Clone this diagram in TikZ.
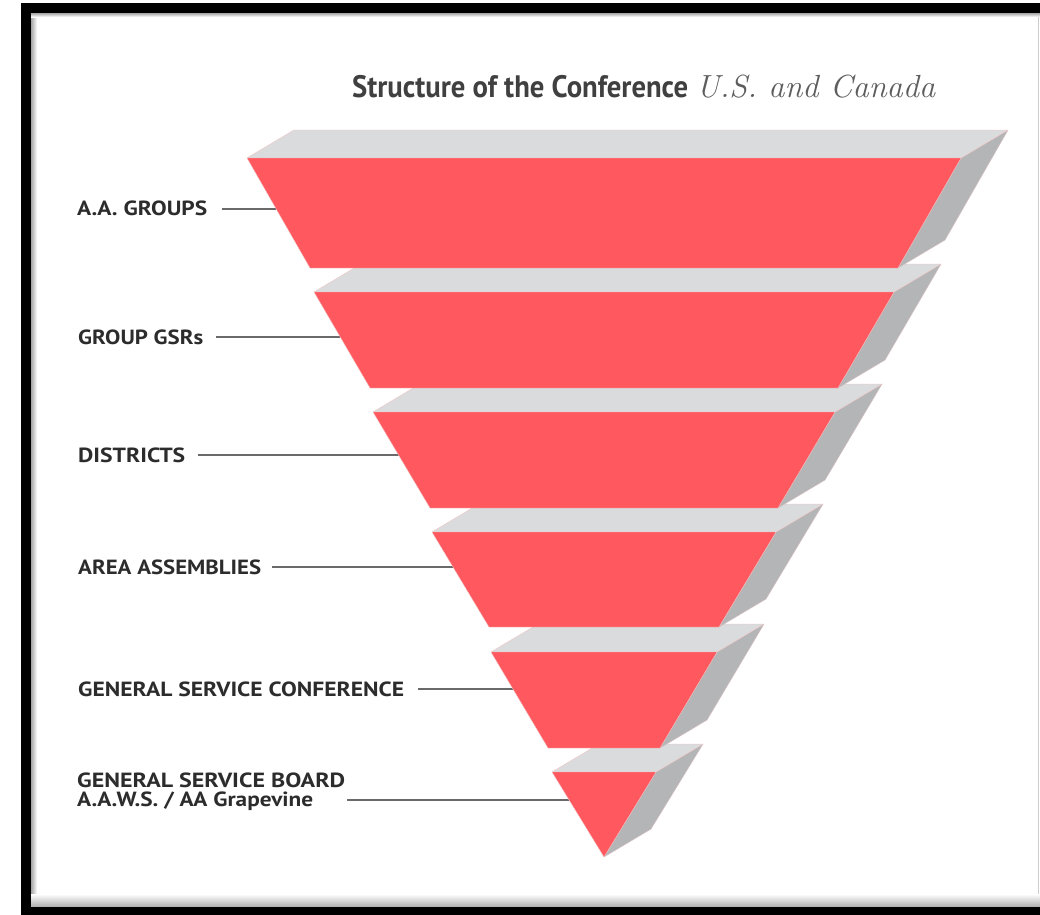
\documentclass[tikz,border=0pt]{standalone}
\usepackage{fontspec}
\usepackage{graphicx}
\newfontfamily\labfont{PT Sans}
\definecolor{slabred}{HTML}{FF585E}
\definecolor{topgrey}{HTML}{DADBDD}
\definecolor{sidegrey}{HTML}{B4B5B7}
\definecolor{slabedge}{HTML}{F0C4C4}
\definecolor{labcol}{HTML}{2C2C2C}
\definecolor{conncol}{HTML}{6A6A6A}
\definecolor{titcol}{HTML}{404040}
\newcommand\fitw[2]{\resizebox{#1pt}{\height}{#2}}
\newcommand\drawslab[4]{% #1 top y, #2 bottom y, #3 top half width, #4 bottom half width
  \path[sideface] ({604+#3},#1) -- ({651+#3},{#1-28}) -- ({651+#4},{#2-28}) -- ({604+#4},#2) -- cycle;
  \path[topface] ({604-#3},#1) -- ({651-#3},{#1-28}) -- ({651+#3},{#1-28}) -- ({604+#3},#1) -- cycle;
  \path[front] ({604-#3},#1) -- ({604+#3},#1) -- ({604+#4},#2) -- ({604-#4},#2) -- cycle;
}
\begin{document}
\begin{tikzpicture}[x=1pt,y=-1pt,
  front/.style={fill=slabred, draw=slabedge, line width=0.4pt, line join=round},
  topface/.style={fill=topgrey, draw=slabedge, line width=0.4pt, line join=round},
  sideface/.style={fill=sidegrey, draw=slabedge!60!sidegrey, line width=0.4pt, line join=round},
  lab/.style={anchor=base west, inner sep=0pt, text=labcol,
    font=\labfont\bfseries\fontsize{20.5}{18}\selectfont},
  conn/.style={draw=conncol, line width=1.8pt}]
\useasboundingbox (0,0) rectangle (1040,914);
% frame
\fill[white] (0,0) rectangle (1040,914);
\fill[black] (21,3) rectangle (1060,930);
\fill[white] (31,13) rectangle (1050,906);
\shade[left color=gray!70, right color=white] (31,13) rectangle (37,906);
\shade[top color=gray!70, bottom color=white] (31,13) rectangle (1050,17);
\shade[top color=white, bottom color=gray!60] (31,894) rectangle (1050,906);
\draw[gray!40, line width=0.8pt] (1038,17) -- (1038,894);
% title
\node[anchor=base west, inner sep=0pt, text=titcol] (title) at (352,97)
  {\fitw{336}{\labfont\bfseries\fontsize{31}{34}\selectfont Structure of the Conference}};
\node[anchor=base west, inner sep=0pt, text=titcol!85] (subtitle) at (696,97)
  {\fitw{239}{\itshape\fontsize{32}{34}\selectfont U.S. and Canada}};
% labels
\node[lab] (l1) at (77,215) {\fitw{130}{A.A. GROUPS}};
\node[lab] (l2) at (78,344) {\fitw{125}{GROUP GSRs}};
\node[lab] (l3) at (78,462) {\fitw{107}{DISTRICTS}};
\node[lab] (l4) at (78,574) {\fitw{183}{AREA ASSEMBLIES}};
\node[lab] (l5) at (78,696) {\fitw{326}{GENERAL SERVICE CONFERENCE}};
\node[lab, align=left] (l6) at (77,806) {\fitw{268}{GENERAL SERVICE BOARD}\\[1pt]\fitw{236}{A.A.W.S. / AA Grapevine}};
% connector ends
\coordinate (e1) at (284,209);
\coordinate (e2) at (348,337);
\coordinate (e3) at (406,455);
\coordinate (e4) at (462,567);
\coordinate (e5) at (522,689);
\coordinate (e6) at (577,800);
\draw[conn] ([xshift=15pt]l1.east |- e1) -- (e1);
\draw[conn] ([xshift=13pt]l2.east |- e2) -- (e2);
\draw[conn] ([xshift=13pt]l3.east |- e3) -- (e3);
\draw[conn] ([xshift=11pt]l4.east |- e4) -- (e4);
\draw[conn] ([xshift=14pt]l5.east |- e5) -- (e5);
\draw[conn] ([xshift=2pt]l6.east |- e6) -- (e6);
% slabs, bottom to top
\drawslab{772}{857}{52}{0}
\drawslab{652}{748}{113}{56}
\drawslab{532}{627}{172}{115}
\drawslab{412}{508}{231}{174}
\drawslab{292}{388}{290}{234}
\drawslab{158}{268}{357}{294}
\end{tikzpicture}
\end{document}
